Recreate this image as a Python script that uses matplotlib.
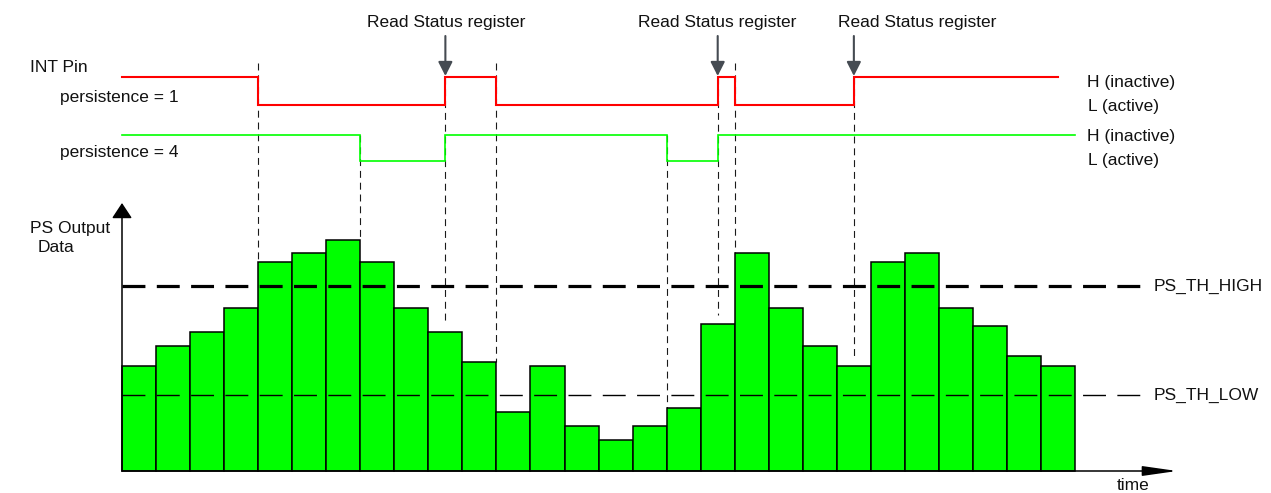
import numpy as np
import matplotlib
matplotlib.use("Agg")
import matplotlib.pyplot as plt

plt.rcParams['font.family'] = ['Liberation Sans', 'DejaVu Sans']
plt.rcParams['lines.scale_dashes'] = False

# --- data ---
ps_values = [105, 125, 139, 163, 209, 218, 231, 209, 163, 139, 109, 59, 105, 45,
             31, 45, 63, 147, 218, 163, 125, 105, 209, 218, 163, 145, 115, 105]
th_high = 185
th_low = 76

# INT pin, persistence = 1 (1 = H inactive, 0 = L active)
int1_times = [0, 4, 9.5, 11, 17.5, 18, 21.5, 27.5]
int1_states = [1, 0, 1, 0, 1, 0, 1]
# INT pin, persistence = 4
int4_times = [0, 7, 9.5, 16, 17.5, 28]
int4_states = [1, 0, 1, 0, 1]
# moments the status register is read
read_times = [9.5, 17.5, 21.5]

# --- layout (pixel based figure) ---
W, H = 1271, 493
X0, SLOT = 122, 34.04      # px of t=0, px per bar
BASE = 471                 # px of value 0
red_lv = (366, 394)        # low / high levels
grn_lv = (310, 336)
RED, GRN = '#ff0000', '#00ff00'

fig = plt.figure(figsize=(W / 100, H / 100), dpi=100)
ax = fig.add_axes([0, 0, 1, 1])
ax.set_xlim(-X0 / SLOT, (W - X0) / SLOT)
ax.set_ylim(BASE - H, BASE)
ax.axis('off')


def px2t(x):
    return (x - X0) / SLOT


def label(x, y, s, **kw):
    fig.text(x / W, 1 - y / H, s, ha='left', va='center', fontsize=12.5, color='#111', **kw)


# bars
idx = np.arange(len(ps_values))
ax.bar(idx, ps_values, width=1.0, align='edge', color=GRN,
       edgecolor='black', linewidth=1.1, zorder=2)

# thresholds
x_end = px2t(1144)
ax.plot([0, x_end], [th_high, th_high], color='black', lw=2.3, dashes=(16.5, 8.2), zorder=3)
ax.plot([0, x_end], [th_low, th_low], color='black', lw=1.0, dashes=(16.5, 8.2), zorder=3)


def step_signal(times, states, lv, color, lw):
    xs, ys = [], []
    for i, s in enumerate(states):
        y = lv[s]
        xs += [times[i], times[i + 1]]
        ys += [y, y]
    ax.plot(xs, ys, color=color, lw=lw, zorder=4, solid_joinstyle='miter')


step_signal(int1_times, int1_states, red_lv, RED, 1.5)
step_signal(int4_times, int4_states, grn_lv, GRN, 1.2)


def bar_top(t):
    if float(t).is_integer():
        t = int(t)
        return max(ps_values[t - 1], ps_values[t])
    return ps_values[int(t)] + 9


# dashed event lines
events = {}
for i in range(1, len(int1_times) - 1):
    falling = int1_states[i] == 0
    events[int1_times[i]] = red_lv[1] + 14 if falling else red_lv[1]
for i in range(1, len(int4_times) - 1):
    events.setdefault(int4_times[i], grn_lv[1])
for t, top in events.items():
    ax.plot([t, t], [top, bar_top(t)], color='#1a1a1a', lw=0.8, dashes=(5, 3.5), zorder=1)

# read status arrows
for t in read_times:
    ax.annotate('', xy=(t, red_lv[1] + 1), xytext=(t, BASE - 36),
                arrowprops=dict(arrowstyle='-|>,head_length=8.5,head_width=4.3',
                                mutation_scale=1, color='#454b52', lw=1.5,
                                shrinkA=0, shrinkB=0), zorder=5)

# axes arrows
ax.annotate('', xy=(0, BASE - 203), xytext=(0, 0),
            arrowprops=dict(arrowstyle='-|>,head_length=9.4,head_width=6.2',
                            mutation_scale=1, color='black', lw=1.1,
                            shrinkA=0, shrinkB=0), zorder=5)
ax.annotate('', xy=(px2t(1177), 0), xytext=(0, 0),
            arrowprops=dict(arrowstyle='-|>,head_length=21,head_width=3',
                            mutation_scale=1, color='black', lw=1.1,
                            shrinkA=0, shrinkB=0), zorder=5)

# texts
for x in (367, 638, 838):
    label(x, 22, 'Read Status register')
label(30, 67, 'INT Pin')
label(60, 97, 'persistence = 1')
label(60, 153, 'persistence = 4')
label(1087, 82, 'H (inactive)')
label(1088, 107, 'L (active)')
label(1087, 136, 'H (inactive)')
label(1088, 160, 'L (active)')
label(1154, 286, 'PS_TH_HIGH')
label(1154, 395, 'PS_TH_LOW')
label(30, 228, 'PS Output')
label(38, 248, 'Data')
label(1117, 486, 'time')

fig.savefig('out.png', dpi=100, facecolor='white')
